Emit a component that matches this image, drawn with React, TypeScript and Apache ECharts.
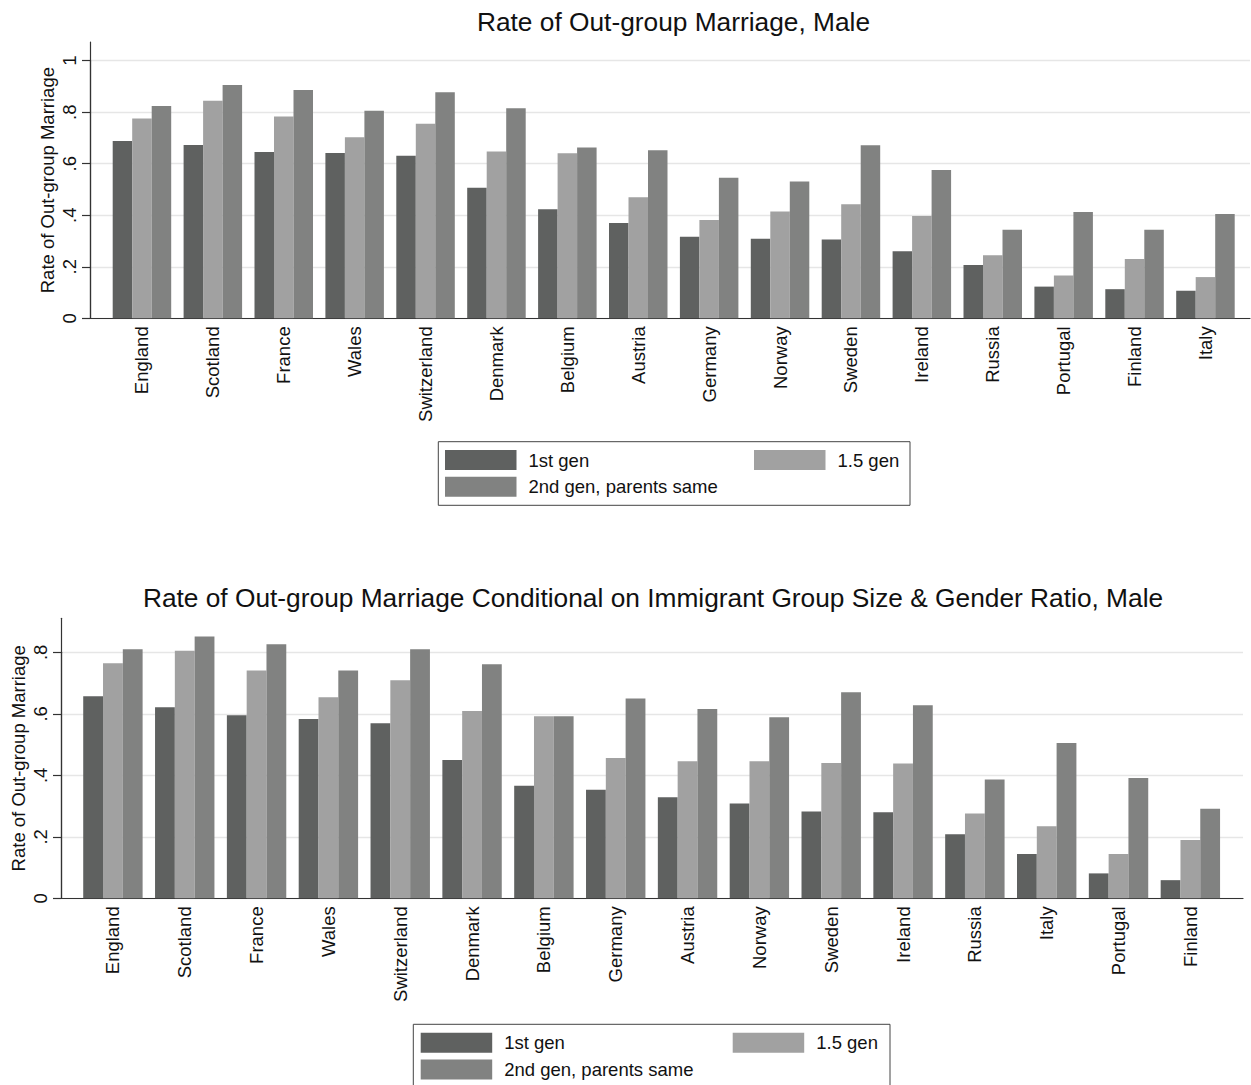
import React, { useEffect, useRef } from "react";
import * as echarts from "echarts";

// ---------- data ----------
const seriesNames = ["1st gen", "1.5 gen", "2nd gen, parents same"];
const seriesColors = ["#5f6160", "#a1a1a1", "#818281"];

const topTitle = "Rate of Out-group Marriage, Male";
const topCategories = [
  "England", "Scotland", "France", "Wales", "Switzerland", "Denmark", "Belgium", "Austria",
  "Germany", "Norway", "Sweden", "Ireland", "Russia", "Portugal", "Finland", "Italy",
];
const topGen1 = [0.688, 0.673, 0.646, 0.642, 0.631, 0.507, 0.423, 0.37, 0.317, 0.309, 0.306, 0.26, 0.207, 0.123, 0.113, 0.107];
const topGen15 = [0.776, 0.845, 0.783, 0.703, 0.755, 0.648, 0.641, 0.47, 0.382, 0.415, 0.443, 0.397, 0.245, 0.166, 0.23, 0.16];
const topGen2 = [0.824, 0.906, 0.886, 0.806, 0.878, 0.815, 0.663, 0.652, 0.546, 0.531, 0.672, 0.576, 0.344, 0.413, 0.344, 0.405];

const bottomTitle = "Rate of Out-group Marriage Conditional on Immigrant Group Size & Gender Ratio, Male";
const bottomCategories = [
  "England", "Scotland", "France", "Wales", "Switzerland", "Denmark", "Belgium", "Germany",
  "Austria", "Norway", "Sweden", "Ireland", "Russia", "Italy", "Portugal", "Finland",
];
const bottomGen1 = [0.657, 0.621, 0.595, 0.583, 0.569, 0.45, 0.366, 0.353, 0.329, 0.308, 0.282, 0.28, 0.208, 0.144, 0.081, 0.059];
const bottomGen15 = [0.764, 0.805, 0.741, 0.654, 0.709, 0.609, 0.592, 0.456, 0.446, 0.446, 0.44, 0.438, 0.276, 0.234, 0.144, 0.19];
const bottomGen2 = [0.81, 0.851, 0.826, 0.741, 0.81, 0.761, 0.592, 0.65, 0.616, 0.589, 0.67, 0.628, 0.386, 0.505, 0.391, 0.291];

const yAxisTitle = "Rate of Out-group Marriage";
const topTickMax = 1.0;
const bottomTickMax = 0.8;
const tickStep = 0.2;

// ---------- styling ----------
const FONT = "'Liberation Sans', Arial, Helvetica, sans-serif";
const TEXT = "#111";
const AXIS = "#333";
const GRIDLINE = "#e6e6e6";
const W = 1251;
const H = 1085;

const fmtTick = (v: number) => {
  if (Math.abs(v) < 1e-9) return "0";
  if (v >= 1) return String(Math.round(v * 10) / 10);
  return v.toFixed(1).replace(/^0/, "");
};

type Panel = {
  title: string;
  titleX: number;
  titleTop: number;
  cats: string[];
  vals: number[][];
  axisLeft: number;
  axisRight: number;
  axisTop: number;
  zeroY: number;
  pxPerUnit: number;
  tickMax: number;
  bandLeft: number;
  bandPitch: number;
  barWidth: number;
  legendLeft: number;
  legendTop: number;
  legendCol2: number;
  boxLeft: number;
  boxTop: number;
  boxW: number;
  boxH: number;
};

function buildPanel(p: Panel, gi: number, opt: any) {
  const axisMax = (p.zeroY - p.axisTop) / p.pxPerUnit;
  const tickTop = p.zeroY - p.tickMax * p.pxPerUnit;
  const tickH = p.tickMax * p.pxPerUnit;
  const bandW = p.bandPitch * p.cats.length;

  // frame grid
  opt.grid.push({ left: p.axisLeft, width: p.axisRight - p.axisLeft, top: p.axisTop, height: p.zeroY - p.axisTop });
  // tick grid
  opt.grid.push({ left: p.axisLeft, width: p.axisRight - p.axisLeft, top: tickTop, height: tickH });
  // bar grid
  opt.grid.push({ left: p.bandLeft, width: bandW, top: p.axisTop, height: p.zeroY - p.axisTop });

  opt.xAxis.push(
    {
      gridIndex: gi, type: "value", min: 0, max: 1,
      axisLine: { show: true, lineStyle: { color: AXIS, width: 1.2 } },
      axisTick: { show: false }, axisLabel: { show: false }, splitLine: { show: false },
    },
    { gridIndex: gi + 1, type: "value", min: 0, max: 1, show: false },
    {
      gridIndex: gi + 2, type: "category", data: p.cats,
      axisLine: { show: false }, axisTick: { show: false }, splitLine: { show: false },
      axisLabel: { interval: 0, rotate: 90, margin: 8, fontSize: 18.5, color: TEXT, fontFamily: FONT },
    }
  );
  opt.yAxis.push(
    {
      gridIndex: gi, type: "value", min: 0, max: axisMax,
      axisLine: { show: true, lineStyle: { color: AXIS, width: 1.2 } },
      axisTick: { show: false }, axisLabel: { show: false }, splitLine: { show: false },
      name: yAxisTitle, nameLocation: "middle", nameGap: 33, nameRotate: 90,
      nameTextStyle: { fontSize: 18.5, color: TEXT, fontFamily: FONT },
    },
    {
      gridIndex: gi + 1, type: "value", min: 0, max: p.tickMax, interval: tickStep,
      axisLine: { show: true, lineStyle: { color: AXIS, width: 1.2 } },
      axisTick: { show: true, length: 8, lineStyle: { color: AXIS, width: 1.2 } },
      axisLabel: { rotate: 90, margin: 11, fontSize: 18.5, color: TEXT, fontFamily: FONT, formatter: fmtTick },
      splitLine: { show: true, lineStyle: { color: GRIDLINE, width: 1.3 } },
    },
    { gridIndex: gi + 2, type: "value", min: 0, max: axisMax, show: false }
  );

  seriesNames.forEach((name, si) => {
    opt.series.push({
      type: "bar", name, xAxisIndex: gi + 2, yAxisIndex: gi + 2,
      data: p.vals[si], barWidth: p.barWidth, barGap: "0%",
      itemStyle: { color: seriesColors[si] }, z: 3,
    });
  });

  opt.title.push({
    text: p.title, left: p.titleX, top: p.titleTop, textAlign: "center", padding: 0,
    textStyle: { fontSize: 26.3, fontWeight: "normal", color: TEXT, fontFamily: FONT },
  });

  const legendCommon = {
    orient: "vertical", itemWidth: 71.5, itemHeight: 20, itemGap: 6.7, padding: 0,
    icon: "rect", selectedMode: false,
    textStyle: { fontSize: 18.5, color: TEXT, fontFamily: FONT, padding: [0, 0, 0, 7] },
  };
  opt.legend.push(
    { ...legendCommon, left: p.legendLeft, top: p.legendTop, data: [seriesNames[0], seriesNames[2]] },
    { ...legendCommon, left: p.legendCol2, top: p.legendTop, data: [seriesNames[1]] }
  );

  opt.graphic.push({
    type: "rect", z: 1,
    shape: { x: p.boxLeft, y: p.boxTop, width: p.boxW, height: p.boxH },
    style: { fill: "none", stroke: "#444", lineWidth: 1 },
  });
}

export default function App() {
  const ref = useRef<HTMLDivElement>(null);
  useEffect(() => {
    if (!ref.current) return;
    const chart = echarts.init(ref.current, null, { renderer: "svg", width: W, height: H });
    const opt: any = {
      animation: false, backgroundColor: "#fff",
      title: [], grid: [], xAxis: [], yAxis: [], series: [], legend: [], graphic: [],
    };
    buildPanel(
      {
        title: topTitle, titleX: 673.5, titleTop: 9,
        cats: topCategories, vals: [topGen1, topGen15, topGen2],
        axisLeft: 90, axisRight: 1250, axisTop: 42, zeroY: 318.3, pxPerUnit: 257.6, tickMax: topTickMax,
        bandLeft: 106.5, bandPitch: 70.9, barWidth: 19.5,
        legendLeft: 445, legendTop: 450, legendCol2: 754,
        boxLeft: 438.3, boxTop: 441.7, boxW: 471.7, boxH: 63.6,
      },
      0, opt
    );
    buildPanel(
      {
        title: bottomTitle, titleX: 653, titleTop: 585,
        cats: bottomCategories, vals: [bottomGen1, bottomGen15, bottomGen2],
        axisLeft: 61, axisRight: 1243, axisTop: 618.3, zeroY: 898.3, pxPerUnit: 307.5, tickMax: bottomTickMax,
        bandLeft: 77, bandPitch: 71.83, barWidth: 19.8,
        legendLeft: 420.7, legendTop: 1032.7, legendCol2: 732.7,
        boxLeft: 413.3, boxTop: 1024.3, boxW: 476.7, boxH: 64,
      },
      3, opt
    );
    chart.setOption(opt);
    return () => chart.dispose();
  }, []);
  return (
    <div
      ref={ref}
      style={{ position: "absolute", left: 0, top: 0, width: W, height: H, background: "#fff" }}
    />
  );
}
